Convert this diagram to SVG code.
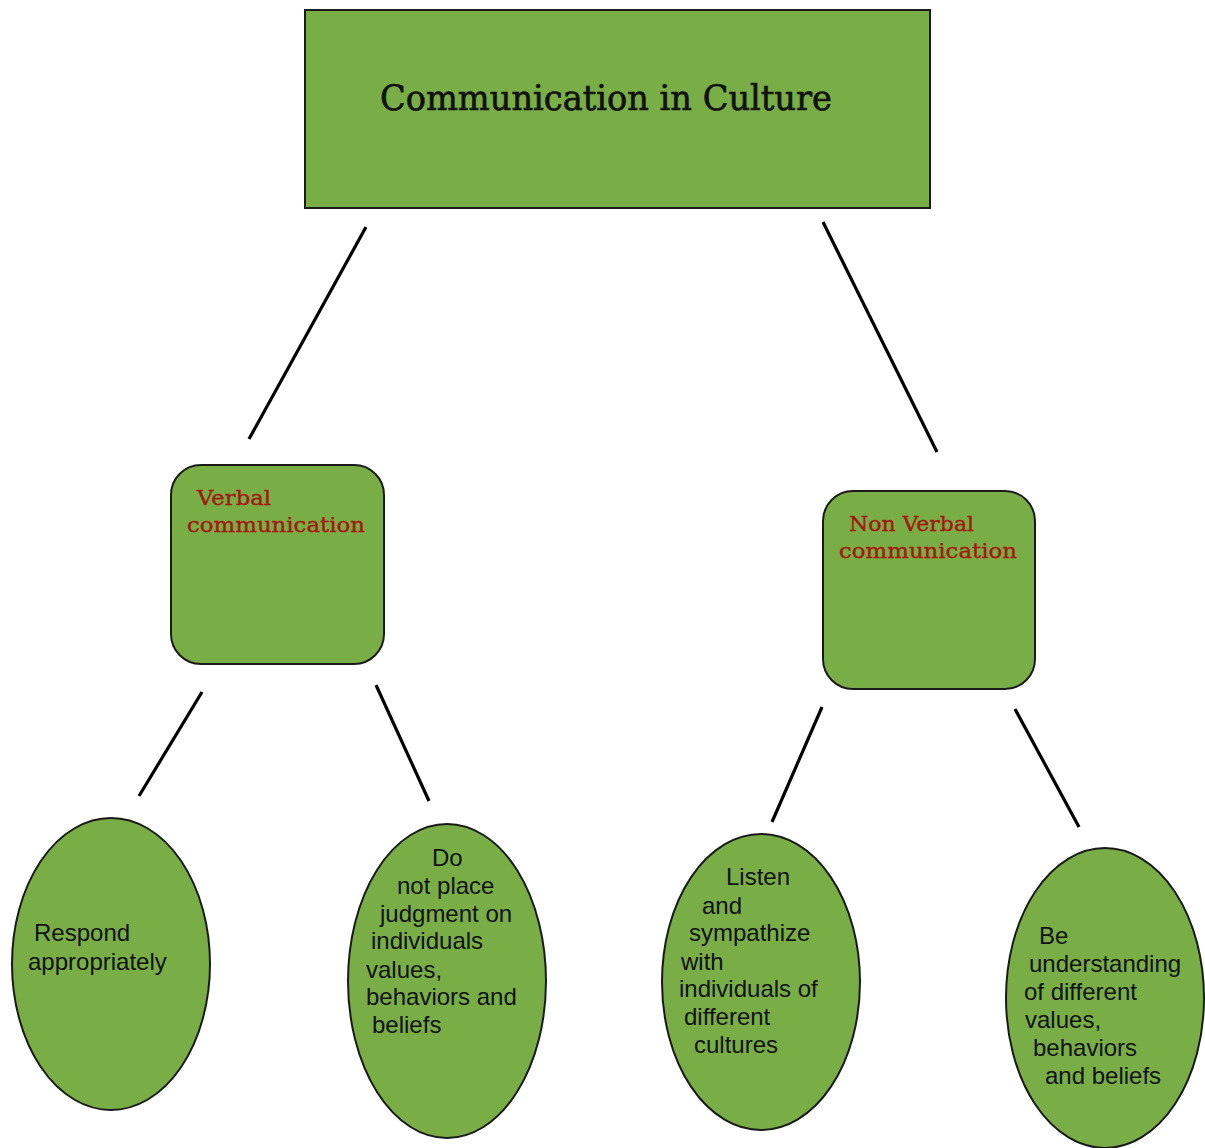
<svg xmlns="http://www.w3.org/2000/svg" width="1205" height="1148" viewBox="0 0 1205 1148">
  <style>
    .box { fill: #79ae47; stroke: #1a1a1a; stroke-width: 2; }
    .link { stroke: #000; stroke-width: 3.2; stroke-linecap: butt; fill: none; }
    .title { font-family: "DejaVu Serif", "Liberation Serif", serif; font-size: 36px; fill: #111; stroke: #111; stroke-width: 0.7; }
    .head { font-family: "DejaVu Serif", "Liberation Serif", serif; font-size: 21px; fill: #a3190f; stroke: #a3190f; stroke-width: 0.4; }
    .body { font-family: "Liberation Sans", Arial, sans-serif; font-size: 24px; fill: #111; }
  </style>
  <rect width="1205" height="1148" fill="#ffffff"/>

  <g id="connectors">
    <line class="link" x1="366" y1="227" x2="249" y2="439"/>
    <line class="link" x1="823" y1="222" x2="937" y2="452"/>
    <line class="link" x1="202" y1="692" x2="139" y2="796"/>
    <line class="link" x1="376" y1="685" x2="429" y2="801"/>
    <line class="link" x1="822" y1="707" x2="772" y2="822"/>
    <line class="link" x1="1015" y1="709" x2="1079" y2="827"/>
  </g>

  <g id="root">
    <rect class="box" x="305" y="10" width="625" height="198"/>
    <text class="title" x="380" y="110" textLength="452" lengthAdjust="spacingAndGlyphs">Communication in Culture</text>
  </g>

  <g id="verbal">
    <rect class="box" x="171" y="465" width="213" height="199" rx="30" ry="30"/>
    <text class="head" x="197" y="505" textLength="74" lengthAdjust="spacingAndGlyphs">Verbal</text>
    <text class="head" x="187" y="532" textLength="178" lengthAdjust="spacingAndGlyphs">communication</text>
  </g>

  <g id="nonverbal">
    <rect class="box" x="823" y="491" width="212" height="198" rx="30" ry="30"/>
    <text class="head" x="849" y="531" textLength="125" lengthAdjust="spacingAndGlyphs">Non Verbal</text>
    <text class="head" x="839" y="558" textLength="178" lengthAdjust="spacingAndGlyphs">communication</text>
  </g>

  <g id="respond">
    <ellipse class="box" cx="111" cy="964" rx="99" ry="146"/>
    <text class="body" x="34" y="941">Respond</text>
    <text class="body" x="28" y="970">appropriately</text>
  </g>

  <g id="no-judgment">
    <ellipse class="box" cx="447" cy="981" rx="99" ry="157"/>
    <text class="body" x="432" y="866">Do</text>
    <text class="body" x="397" y="894">not place</text>
    <text class="body" x="380" y="922">judgment on</text>
    <text class="body" x="371" y="949">individuals</text>
    <text class="body" x="366" y="978">values,</text>
    <text class="body" x="366" y="1005">behaviors and</text>
    <text class="body" x="372" y="1033">beliefs</text>
  </g>

  <g id="listen">
    <ellipse class="box" cx="761" cy="982" rx="99" ry="148"/>
    <text class="body" x="726" y="885">Listen</text>
    <text class="body" x="702" y="914">and</text>
    <text class="body" x="689" y="941">sympathize</text>
    <text class="body" x="681" y="970">with</text>
    <text class="body" x="679" y="997">individuals of</text>
    <text class="body" x="684" y="1025">different</text>
    <text class="body" x="694" y="1053">cultures</text>
  </g>

  <g id="understanding">
    <ellipse class="box" cx="1105" cy="998" rx="99" ry="150"/>
    <text class="body" x="1039" y="944">Be</text>
    <text class="body" x="1029" y="972">understanding</text>
    <text class="body" x="1024" y="1000">of different</text>
    <text class="body" x="1025" y="1028">values,</text>
    <text class="body" x="1033" y="1056">behaviors</text>
    <text class="body" x="1045" y="1084">and beliefs</text>
  </g>
</svg>
